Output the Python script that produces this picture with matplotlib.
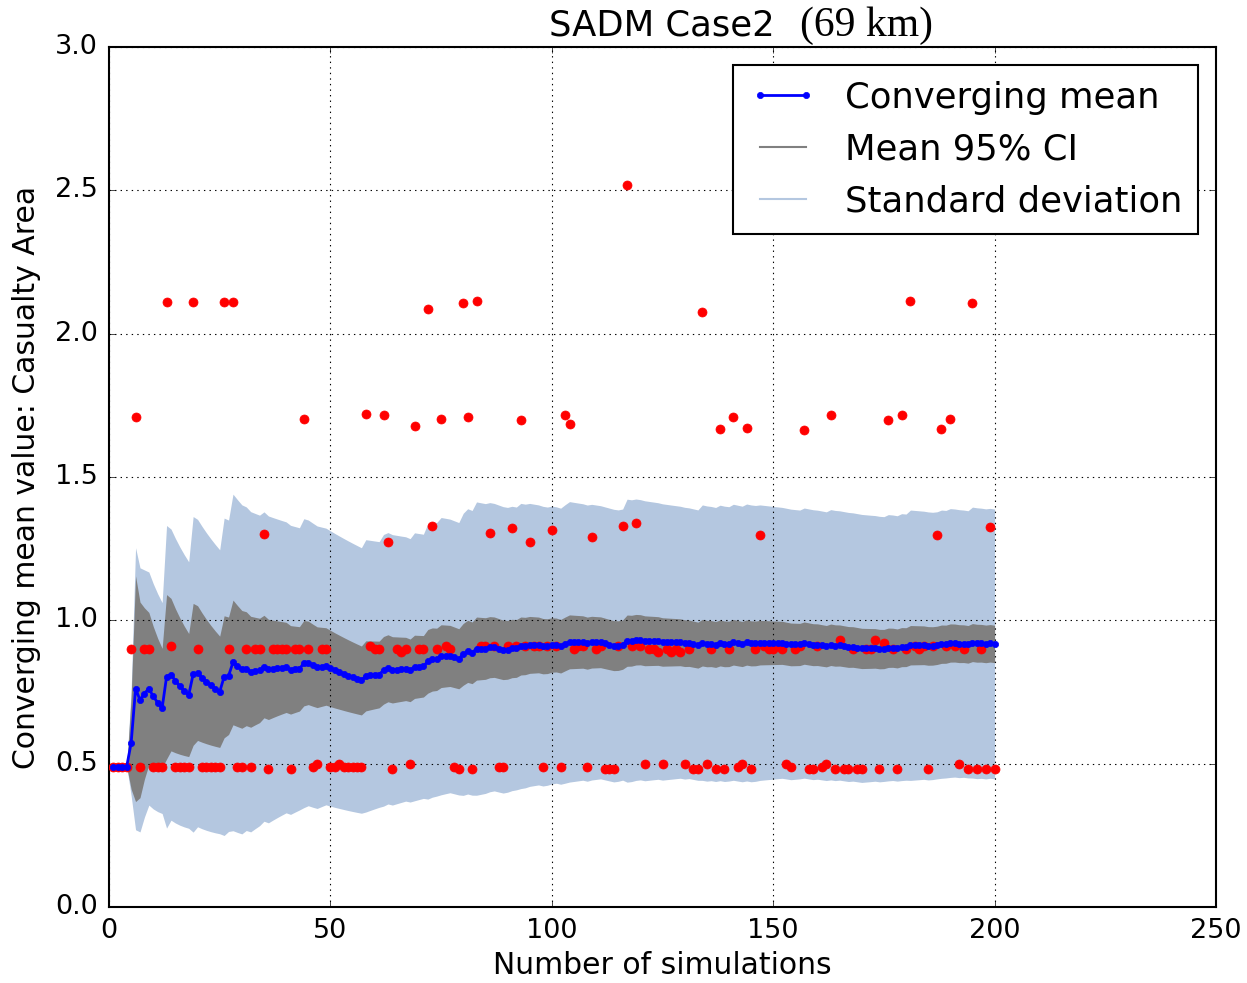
import numpy as np
import matplotlib
matplotlib.use('Agg')
import matplotlib.pyplot as plt
from matplotlib.lines import Line2D

# ---- data: individual simulation results (casualty area) ----
samples = [
    0.49, 0.49, 0.49, 0.49, 0.90, 1.708, 0.49, 0.90, 0.90, 0.49,     # 1-10
    0.49, 0.49, 2.111, 0.91, 0.49, 0.49, 0.49, 0.49, 2.111, 0.90,    # 11-20
    0.49, 0.49, 0.49, 0.49, 0.49, 2.109, 0.90, 2.109, 0.49, 0.49,    # 21-30
    0.90, 0.49, 0.90, 0.90, 1.300, 0.48, 0.90, 0.90, 0.90, 0.90,     # 31-40
    0.48, 0.90, 0.90, 1.704, 0.90, 0.49, 0.50, 0.90, 0.90, 0.49,     # 41-50
    0.49, 0.50, 0.49, 0.49, 0.49, 0.49, 0.49, 1.721, 0.91, 0.90,     # 51-60
    0.90, 1.717, 1.275, 0.48, 0.90, 0.89, 0.90, 0.50, 1.678, 0.90,   # 61-70
    0.90, 2.087, 1.329, 0.90, 1.701, 0.91, 0.90, 0.49, 0.48, 2.107,  # 71-80
    1.709, 0.48, 2.114, 0.91, 0.91, 1.305, 0.91, 0.49, 0.49, 0.91,   # 81-90
    1.321, 0.91, 1.699, 0.91, 1.274, 0.91, 0.91, 0.49, 0.91, 1.315,  # 91-100
    0.91, 0.49, 1.718, 1.684, 0.90, 0.91, 0.91, 0.49, 1.291, 0.90,   # 101-110
    0.91, 0.48, 0.48, 0.48, 0.91, 1.330, 2.517, 0.91, 1.341, 0.91,   # 111-120
    0.50, 0.90, 0.90, 0.89, 0.50, 0.90, 0.89, 0.90, 0.89, 0.50,      # 121-130
    0.90, 0.48, 0.48, 2.074, 0.50, 0.90, 0.48, 1.668, 0.48, 0.90,    # 131-140
    1.710, 0.49, 0.50, 1.671, 0.48, 0.90, 1.298, 0.91, 0.90, 0.90,   # 141-150
    0.91, 0.90, 0.50, 0.49, 0.90, 0.91, 1.665, 0.48, 0.48, 0.91,     # 151-160
    0.49, 0.50, 1.716, 0.48, 0.93, 0.48, 0.48, 0.90, 0.48, 0.48,     # 161-170
    0.90, 0.90, 0.93, 0.48, 0.92, 1.700, 0.90, 0.48, 1.716, 0.90,    # 171-180
    2.113, 0.91, 0.90, 0.91, 0.48, 0.91, 1.299, 1.667, 0.91, 1.702,  # 181-190
    0.91, 0.50, 0.90, 0.48, 2.108, 0.48, 0.90, 0.48, 1.327, 0.48,    # 191-200
]

title_main = "SADM Case2"
title_dist = "(69 km)"
x_label = "Number of simulations"
y_label = "Converging mean value: Casualty Area"
legend_labels = ["Converging mean", "Mean 95% CI", "Standard deviation"]
x_ticks = [0, 50, 100, 150, 200, 250]
y_ticks = [0.0, 0.5, 1.0, 1.5, 2.0, 2.5, 3.0]

# ---- derived statistics ----
vals = np.array(samples, dtype=float)
n = np.arange(1, len(vals) + 1)
cum_mean = np.cumsum(vals) / n
std = np.array([np.std(vals[:k], ddof=1) if k > 1 else 0.0 for k in n])
ci = 1.96 * std / np.sqrt(n)

plt.style.use('classic')
plt.rcParams['figure.facecolor'] = 'white'
plt.rcParams['savefig.facecolor'] = 'white'

fig = plt.figure(figsize=(12.47, 9.83), dpi=100)
ax = fig.add_axes([109 / 1247, 1 - 907 / 983, (1216 - 109) / 1247, (907 - 47) / 983])

ax.fill_between(n, cum_mean - std, cum_mean + std, color='#b4c7e0', linewidth=0, zorder=1)
ax.fill_between(n, cum_mean - ci, cum_mean + ci, color='#808080', linewidth=0, zorder=2)
ax.plot(n, vals, 'o', color='red', markeredgecolor='red', markersize=6.5, zorder=3)
ax.plot(n, cum_mean, '-o', color='blue', markeredgecolor='blue', linewidth=2,
        markersize=4.5, zorder=4)

ax.set_xlim(0, 250)
ax.set_ylim(0, 3.0)
ax.set_xticks(x_ticks)
ax.set_yticks(y_ticks)
ax.set_yticklabels([f"{v:.1f}" for v in y_ticks])
ax.tick_params(labelsize=19.5, pad=8)
ax.grid(True, color='black', linestyle=':', linewidth=0.8)
for s in ax.spines.values():
    s.set_linewidth(1.5)

ax.set_xlabel(x_label, fontsize=21.5, labelpad=5)
ax.set_ylabel(y_label, fontsize=21.5, labelpad=10)

handles = [
    Line2D([], [], color='blue', linewidth=2, marker='o', markersize=4.5, markeredgecolor='blue'),
    Line2D([], [], color='#808080', linewidth=1.5),
    Line2D([], [], color='#b4c7e0', linewidth=1.5),
]
leg = ax.legend(handles, legend_labels, loc='upper right', fontsize=25.5, numpoints=2,
                handlelength=1.9, handletextpad=0.8, borderpad=0.45, labelspacing=0.5,
                fancybox=False, borderaxespad=0.5)
leg.get_frame().set_edgecolor('black')
leg.get_frame().set_linewidth(1.5)

fig.text(549 / 1247, 1 - 36 / 983, title_main, fontsize=25.5, ha='left', va='baseline')
fig.text(800 / 1247, 1 - 36 / 983, title_dist, fontsize=30, ha='left', va='baseline',
         family='Liberation Serif')

fig.savefig('out.png', dpi=100)
